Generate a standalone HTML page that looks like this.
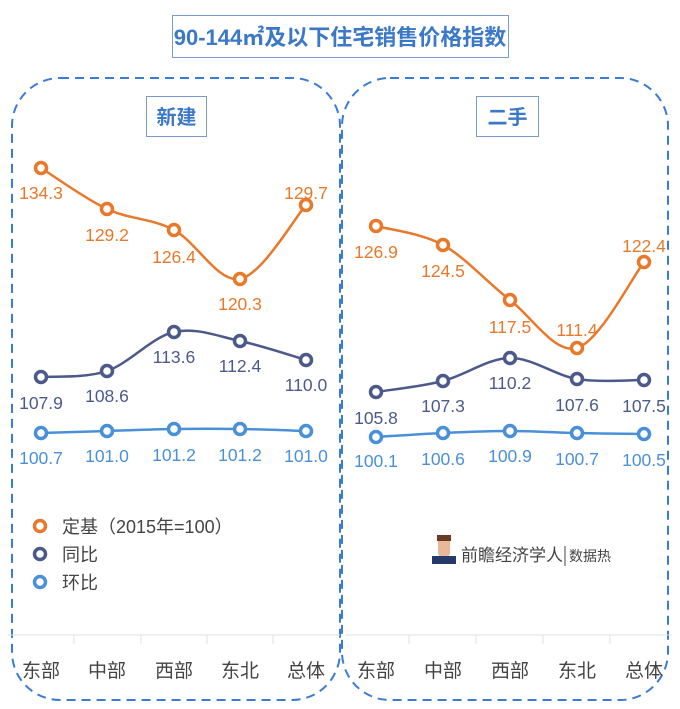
<!DOCTYPE html>
<html><head><meta charset="utf-8"><style>
body{margin:0;background:#fff;}
svg{display:block;font-family:"Liberation Sans","Noto Sans CJK SC",sans-serif;}
</style></head><body>
<svg id="s" width="680" height="709" viewBox="0 0 680 709" xmlns="http://www.w3.org/2000/svg">
<rect x="0" y="0" width="680" height="709" fill="#fff"/>
<rect x="172.5" y="15.5" width="336" height="42" fill="#fff" stroke="#7a9cc9" stroke-width="1"/>
<text x="340" y="45" text-anchor="middle" font-size="22" font-weight="bold" fill="#3b78c8">90-144㎡及以下住宅销售价格指数</text>
<rect x="12" y="78" width="328" height="622" rx="48" fill="none" stroke="#3a7bd5" stroke-width="2" stroke-dasharray="9,6"/>
<rect x="342" y="78" width="326" height="622" rx="48" fill="none" stroke="#3a7bd5" stroke-width="2" stroke-dasharray="9,6"/>
<rect x="146.5" y="96.5" width="60" height="40" fill="#fff" stroke="#7a9cc9"/>
<text x="176.5" y="124" text-anchor="middle" font-size="20" font-weight="bold" fill="#3b78c8">新建</text>
<rect x="476.5" y="96.5" width="62" height="40" fill="#fff" stroke="#7a9cc9"/>
<text x="507.5" y="124" text-anchor="middle" font-size="20" font-weight="bold" fill="#3b78c8">二手</text>
<line x1="8" y1="635" x2="340" y2="635" stroke="#e2e2e2"/>
<line x1="345" y1="635" x2="672" y2="635" stroke="#e2e2e2"/>
<g stroke="#e2e2e2"><line x1="74" y1="635" x2="74" y2="644"/><line x1="141" y1="635" x2="141" y2="644"/><line x1="207" y1="635" x2="207" y2="644"/><line x1="273" y1="635" x2="273" y2="644"/>
<line x1="409" y1="635" x2="409" y2="644"/><line x1="476" y1="635" x2="476" y2="644"/><line x1="543" y1="635" x2="543" y2="644"/><line x1="610" y1="635" x2="610" y2="644"/></g>
<g font-size="19" fill="#444" text-anchor="middle">
<text x="41" y="677">东部</text><text x="107" y="677">中部</text><text x="174" y="677">西部</text><text x="240" y="677">东北</text><text x="306" y="677">总体</text>
<text x="376" y="677">东部</text><text x="443" y="677">中部</text><text x="510" y="677">西部</text><text x="577" y="677">东北</text><text x="644" y="677">总体</text>
</g>
<g font-size="18" fill="#444">
<circle cx="40" cy="526" r="5.5" fill="#fff" stroke="#e8782a" stroke-width="3.5"/><text x="62" y="533">定基（2015年=100）</text>
<circle cx="40" cy="554" r="5.5" fill="#fff" stroke="#4b5a8a" stroke-width="3.5"/><text x="62" y="561">同比</text>
<circle cx="40" cy="582" r="5.5" fill="#fff" stroke="#4a90d9" stroke-width="3.5"/><text x="62" y="589">环比</text>
</g>
<g>
<rect x="438" y="537" width="12" height="20" rx="4" fill="#e8b898"/>
<rect x="437" y="535" width="14" height="6" fill="#6b3a22"/>
<rect x="432" y="556" width="24" height="8" fill="#243a6b"/>
<text x="461" y="561" font-size="17" fill="#444">前瞻经济学人</text>
<line x1="565" y1="546" x2="565" y2="566" stroke="#444"/>
<text x="569" y="561" font-size="14" fill="#444">数据热</text>
</g>
<g id="g"></g>
</svg>
<script>
var NS="http://www.w3.org/2000/svg",g=document.getElementById('g');
function path(p){var d="M"+p[0][0]+","+p[0][1];for(var i=0;i<p.length-1;i++){var p0=p[i-1]||p[i],p1=p[i],p2=p[i+1],p3=p[i+2]||p2,t=0.25;
d+=" C"+(p1[0]+(p2[0]-p0[0])*t/1.5)+","+(p1[1]+(p2[1]-p0[1])*t/1.5)+" "+(p2[0]-(p3[0]-p1[0])*t/1.5)+","+(p2[1]-(p3[1]-p1[1])*t/1.5)+" "+p2[0]+","+p2[1];}return d;}
function el(n,a,t){var e=document.createElementNS(NS,n);for(var k in a)e.setAttribute(k,a[k]);if(t)e.textContent=t;g.appendChild(e);}
function series(xs,ys,ls,ly,c){var p=xs.map(function(x,i){return[x,ys[i]]});el('path',{d:path(p),fill:'none',stroke:c,'stroke-width':2.5});
p.forEach(function(q,i){el('circle',{cx:q[0],cy:q[1],r:5.5,fill:'#fff',stroke:c,'stroke-width':3.5});el('text',{x:q[0],y:ly[i]+6,'text-anchor':'middle','font-size':17.5,fill:c},ls[i]);});}
var L=[41,107,174,240,306],R=[376,443,510,577,644];
series(L,[168,209,230,279,205],["134.3","129.2","126.4","120.3","129.7"],[193,235,257,304,193],"#e8782a");
series(L,[377,371,332,341,360],["107.9","108.6","113.6","112.4","110.0"],[403,396,357,366,385],"#4b5a8a");
series(L,[433,431,429,429,431],["100.7","101.0","101.2","101.2","101.0"],[458,456,455,455,456],"#4a90d9");
series(R,[226,245,300,348,262],["126.9","124.5","117.5","111.4","122.4"],[252,271,327,330,246],"#e8782a");
series(R,[392,381,358,379,380],["105.8","107.3","110.2","107.6","107.5"],[418,406,383,405,406],"#4b5a8a");
series(R,[437,433,431,433,434],["100.1","100.6","100.9","100.7","100.5"],[461,459,456,459,460],"#4a90d9");
</script>
</body></html>
